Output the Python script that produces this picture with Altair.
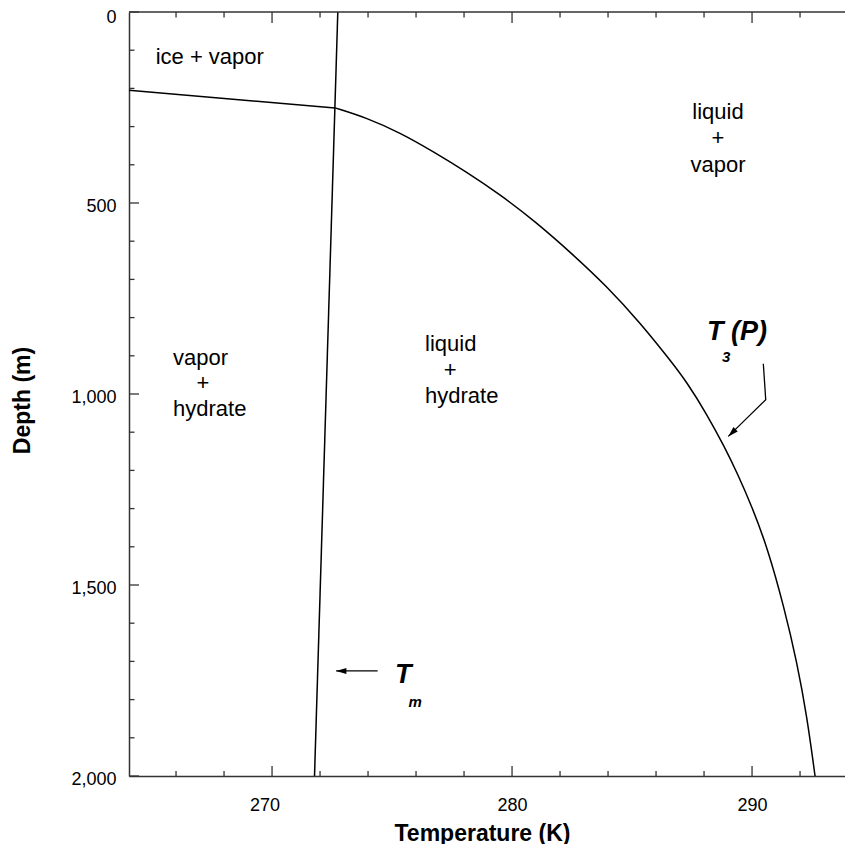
import altair as alt
import pandas as pd

# ---------------- data ----------------
# hydrate stability boundary T3(P): ice+vapor segment and liquid segment
ice_seg_T = [264.04, 272.625]
ice_seg_D = [205, 251]
t3_T = [272.625, 273.94, 275.33, 276.73, 278.08, 279.5, 280.96, 282.54, 283.96, 285.33,
        286.67, 287.29, 288.08, 288.875, 289.375, 290.0, 290.67, 291.33, 291.875,
        292.29, 292.625]
t3_D = [251, 277, 316, 366, 418, 478, 548, 635, 719, 813,
        918, 970, 1049, 1141, 1206, 1295, 1408, 1557, 1703,
        1845, 2000]
# melting line Tm
tm_T = [272.74, 271.77]
tm_D = [0, 2000]

# tick values
x_major = [270, 280, 290]
x_minor = [266, 268, 272, 274, 276, 278, 282, 284, 286, 288, 292]
y_major = [0, 500, 1000, 1500, 2000]
y_minor = [100, 200, 300, 400, 600, 700, 800, 900, 1100, 1200, 1300, 1400,
           1600, 1700, 1800, 1900]

# region labels
left_lab_text = ["ice + vapor", "vapor", "hydrate", "liquid", "hydrate"]
left_lab_T = [265.15, 265.875, 265.875, 276.375, 276.375]
left_lab_D = [117, 905, 1038, 868, 1004]
ctr_lab_text = ["+", "+", "liquid", "+", "vapor"]
ctr_lab_T = [267.125, 277.42, 288.58, 288.58, 288.58]
ctr_lab_D = [970, 936, 261, 329, 400]

# curve name labels
big_lab_text = ["T (P)", "T"]
big_lab_T = [288.125, 275.125]
big_lab_D = [837, 1735]
sub_lab_text = ["3", "m"]
sub_lab_T = [288.92, 275.96]
sub_lab_D = [902, 1805]

# arrows
tm_arrow_T = [274.40, 272.67]
tm_arrow_D = [1725, 1725]
t3_arrow_T = [290.47, 290.57, 289.01]
t3_arrow_D = [921, 1015, 1111]

# ---------------- chart ----------------
W, H = 716, 764
FONT = "Liberation Sans"
xs = alt.Scale(domain=[264.04, 293.873], nice=False, zero=False)
ys = alt.Scale(domain=[0, 2000], reverse=True, nice=False, zero=False)

x_axis = alt.Axis(values=x_major, tickSize=0, grid=False, domainColor="#333",
                  domainWidth=1.5, labelFont=FONT, labelFontSize=18, labelColor="black",
                  labelPadding=20,
                  labelOffset={"condition": {"test": "datum.value === 270", "value": -7.5}, "value": 0},
                  title="Temperature (K)", titleFont=FONT, titleFontSize=23,
                  titleFontWeight="bold", titleColor="black", titleX=353, titleY=64,
                  titleAlign="center", titleBaseline="alphabetic")
y_axis = alt.Axis(values=y_major, format=",d", tickSize=0, grid=False, domainColor="#333",
                  domainWidth=1.5, labelFont=FONT, labelFontSize=18, labelColor="black",
                  labelPadding=13,
                  labelOffset={"condition": {"test": "datum.value === 0", "value": 5.5}, "value": 3.5},
                  labelFlush=False,
                  title="Depth (m)", titleFont=FONT, titleFontSize=23,
                  titleFontWeight="bold", titleColor="black", titleX=-107, titleY=388,
                  titleAngle=270, titleAlign="center", titleBaseline="middle")


def X():
    return alt.X("T:Q", scale=xs, axis=x_axis)


def Y():
    return alt.Y("D:Q", scale=ys, axis=y_axis)


ice_df = pd.DataFrame({"T": ice_seg_T, "D": ice_seg_D, "o": range(len(ice_seg_T))})
t3_df = pd.DataFrame({"T": t3_T, "D": t3_D, "o": range(len(t3_T))})
tm_df = pd.DataFrame({"T": tm_T, "D": tm_D, "o": range(len(tm_T))})

line_style = dict(color="black", strokeWidth=1.5)
ice_line = alt.Chart(ice_df).mark_line(**line_style).encode(x=X(), y=Y(), order="o:Q")
t3_line = alt.Chart(t3_df).mark_line(interpolate="basis", **line_style).encode(
    x=X(), y=Y(), order="o:Q")
tm_line = alt.Chart(tm_df).mark_line(**line_style).encode(x=X(), y=Y(), order="o:Q")

# top frame line (plot continues past the right edge in the reference)
top_line = alt.Chart(pd.DataFrame({"T": [x_major[0]]})).mark_rule(
    color="#333", strokeWidth=1.5).encode(x=alt.value(0), x2=alt.value(W), y=alt.value(0))

# inward-pointing ticks
tick_style = dict(color="#333", strokeWidth=1.3)
xmaj = pd.DataFrame({"T": x_major})
xmin = pd.DataFrame({"T": x_minor})
ymaj = pd.DataFrame({"D": y_major})
ymin = pd.DataFrame({"D": y_minor})
ticks = [
    alt.Chart(xmaj).mark_rule(**tick_style).encode(x=X(), y=alt.value(H), y2=alt.value(H - 10)),
    alt.Chart(xmin).mark_rule(**tick_style).encode(x=X(), y=alt.value(H), y2=alt.value(H - 5)),
    alt.Chart(xmaj).mark_rule(**tick_style).encode(x=X(), y=alt.value(0), y2=alt.value(11)),
    alt.Chart(xmin).mark_rule(**tick_style).encode(x=X(), y=alt.value(0), y2=alt.value(5.5)),
    alt.Chart(ymaj).mark_rule(**tick_style).encode(y=Y(), x=alt.value(0), x2=alt.value(10)),
    alt.Chart(ymin).mark_rule(**tick_style).encode(y=Y(), x=alt.value(0), x2=alt.value(5.5)),
]

left_df = pd.DataFrame({"T": left_lab_T, "D": left_lab_D, "label": left_lab_text})
ctr_df = pd.DataFrame({"T": ctr_lab_T, "D": ctr_lab_D, "label": ctr_lab_text})
left_text = alt.Chart(left_df).mark_text(align="left", baseline="middle", font=FONT,
                                         fontSize=22, color="black").encode(
    x=X(), y=Y(), text="label:N")
ctr_text = alt.Chart(ctr_df).mark_text(align="center", baseline="middle", font=FONT,
                                       fontSize=22, color="black").encode(
    x=X(), y=Y(), text="label:N")

big_df = pd.DataFrame({"T": big_lab_T, "D": big_lab_D, "label": big_lab_text})
sub_df = pd.DataFrame({"T": sub_lab_T, "D": sub_lab_D, "label": sub_lab_text})
big_text = alt.Chart(big_df).mark_text(align="left", baseline="middle", font=FONT,
                                       fontSize=27, fontStyle="italic", fontWeight="bold",
                                       color="black").encode(x=X(), y=Y(), text="label:N")
sub_text = alt.Chart(sub_df).mark_text(align="center", baseline="middle", font=FONT,
                                       fontSize=15, fontStyle="italic", fontWeight="bold",
                                       color="black").encode(x=X(), y=Y(), text="label:N")

tm_arr_df = pd.DataFrame({"T": tm_arrow_T, "D": tm_arrow_D, "o": range(len(tm_arrow_T))})
t3_arr_df = pd.DataFrame({"T": t3_arrow_T, "D": t3_arrow_D, "o": range(len(t3_arrow_T))})
arrow_line_style = dict(color="black", strokeWidth=1.3)
tm_arr = alt.Chart(tm_arr_df).mark_line(**arrow_line_style).encode(x=X(), y=Y(), order="o:Q")
t3_arr = alt.Chart(t3_arr_df).mark_line(**arrow_line_style).encode(x=X(), y=Y(), order="o:Q")
HEAD = "M0,0 L0.3,1 L-0.3,1 Z"
tm_head = alt.Chart(tm_arr_df.tail(1)).mark_point(
    shape=HEAD, size=420, filled=True, color="black", opacity=1, angle=270, strokeWidth=0
).encode(x=X(), y=Y())
t3_head = alt.Chart(t3_arr_df.tail(1)).mark_point(
    shape=HEAD, size=420, filled=True, color="black", opacity=1, angle=225.5, strokeWidth=0
).encode(x=X(), y=Y())

chart = alt.layer(
    ice_line, t3_line, tm_line, top_line, *ticks, left_text, ctr_text, big_text, sub_text,
    tm_arr, t3_arr, tm_head, t3_head
).properties(
    width=W, height=H,
    autosize=alt.AutoSizeParams(type="none"),
    padding={"left": 121, "top": 4, "right": 0, "bottom": 68},
).configure_view(strokeWidth=0)

chart.save("out.html", embed_options={"renderer": "svg", "actions": False})
